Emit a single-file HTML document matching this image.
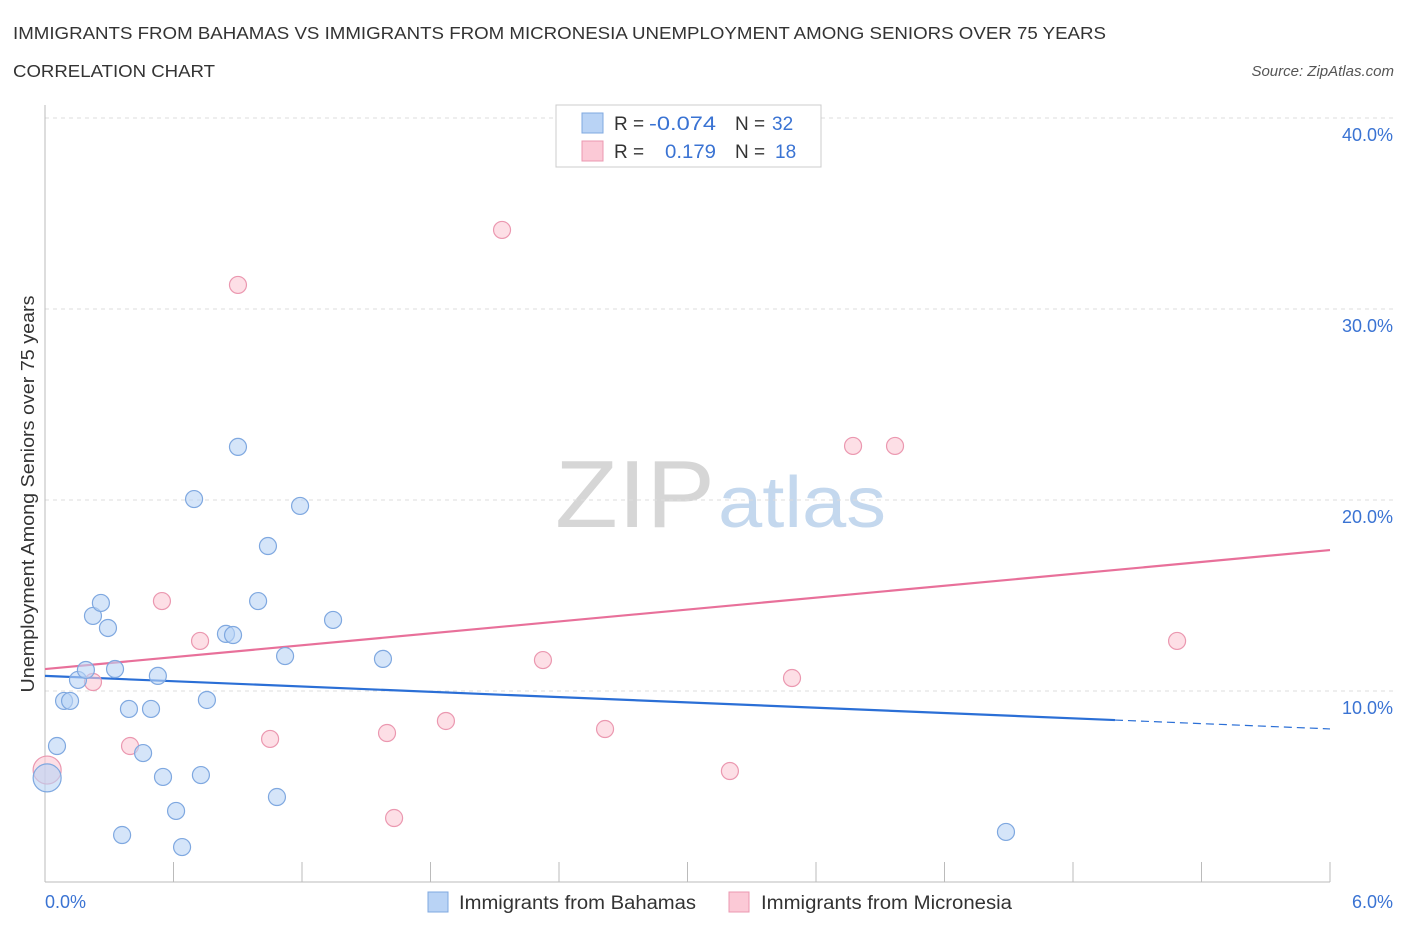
<!DOCTYPE html>
<html><head><meta charset="utf-8"><style>
body{margin:0;background:#fff;font-family:"Liberation Sans",sans-serif;}
svg text{font-family:"Liberation Sans",sans-serif;}
</style></head><body>
<svg id="chart" width="1406" height="930" xmlns="http://www.w3.org/2000/svg">
<text x="13" y="39" font-size="17.5" fill="#333" textLength="1093" lengthAdjust="spacingAndGlyphs">IMMIGRANTS FROM BAHAMAS VS IMMIGRANTS FROM MICRONESIA UNEMPLOYMENT AMONG SENIORS OVER 75 YEARS</text>
<text x="13" y="77" font-size="17.5" fill="#333" textLength="202" lengthAdjust="spacingAndGlyphs">CORRELATION CHART</text>
<text x="1394" y="76" font-size="15" fill="#555" font-style="italic" text-anchor="end">Source: ZipAtlas.com</text>
<g>
<text x="555" y="527" font-size="96" font-family="Liberation Serif,serif" fill="#d6d6d6" textLength="160" lengthAdjust="spacingAndGlyphs">ZIP</text>
<text x="718" y="527" font-size="72" fill="#c4d8ee" textLength="168" lengthAdjust="spacingAndGlyphs">atlas</text>
</g>
<text transform="translate(34,494) rotate(-90)" font-size="18" fill="#333" text-anchor="middle" textLength="397" lengthAdjust="spacingAndGlyphs">Unemployment Among Seniors over 75 years</text>
<g id="grid"></g><g id="axes"></g><g id="lines"></g><g id="points"></g>
<g>
<rect x="556" y="105" width="265" height="62" fill="#fff" stroke="#ccc"/>
<rect x="582" y="113" width="21" height="20" fill="#b9d3f5" stroke="#7fa8e0"/>
<rect x="582" y="141" width="21" height="20" fill="#fbc9d6" stroke="#eb98b0"/>
<text x="614" y="130" font-size="19" fill="#333">R = </text><text x="649" y="130" font-size="19" fill="#3a73d3" textLength="67" lengthAdjust="spacingAndGlyphs">-0.074</text>
<text x="735" y="130" font-size="19" fill="#333">N = </text><text x="772" y="130" font-size="19" fill="#3a73d3">32</text>
<text x="614" y="158" font-size="19" fill="#333">R = </text><text x="665" y="158" font-size="19" fill="#3a73d3" textLength="51" lengthAdjust="spacingAndGlyphs">0.179</text>
<text x="735" y="158" font-size="19" fill="#333">N = </text><text x="775" y="158" font-size="19" fill="#3a73d3">18</text>
</g>
<g>
<rect x="428" y="892" width="20" height="20" fill="#b9d3f5" stroke="#7fa8e0"/>
<text x="459" y="909" font-size="19" fill="#333" textLength="237" lengthAdjust="spacingAndGlyphs">Immigrants from Bahamas</text>
<rect x="729" y="892" width="20" height="20" fill="#fbc9d6" stroke="#eb98b0"/>
<text x="761" y="909" font-size="19" fill="#333" textLength="251" lengthAdjust="spacingAndGlyphs">Immigrants from Micronesia</text>
</g>
</svg>
<script>
const xTicks=[0,0.6,1.2,1.8,2.4,3.0,3.6,4.2,4.8,5.4,6.0];
const yTicks=[10,20,30,40];
const yTickLabels=["10.0%","20.0%","30.0%","40.0%"];
const xEndLabels=["0.0%","6.0%"];
const bahamasX=[0.056,0.089,0.117,0.154,0.191,0.224,0.261,0.294,0.327,0.360,0.392,0.458,0.495,0.527,0.551,0.612,0.640,0.696,0.728,0.756,0.845,0.878,0.901,0.995,1.041,1.083,1.121,1.191,1.345,1.578,4.487,0.01];
const bahamasY=[7.12,9.48,9.48,10.58,11.10,13.93,14.61,13.30,11.15,2.46,9.06,6.75,9.06,10.79,5.50,3.72,1.83,20.05,5.60,9.53,12.99,12.93,22.78,14.71,17.59,4.45,11.83,19.69,13.72,11.68,2.62,5.45];
const micronesiaX=[0.01,0.224,0.397,0.546,0.724,0.901,1.051,1.597,1.630,1.872,2.134,2.325,2.615,3.198,3.488,3.773,3.969,5.286];
const micronesiaY=[5.86,10.47,7.12,14.71,12.62,31.26,7.49,7.80,3.35,8.43,34.14,11.62,8.01,5.81,10.68,22.83,22.83,12.62];
const bahamasTrend=[10.79,-0.4625]; // intercept, slope
const micronesiaTrend=[11.15,1.038];
const X=v=>45+v/6*1285, Y=v=>882-v*19.1;
const NS="http://www.w3.org/2000/svg";
function mk(p,t,a){const e=document.createElementNS(NS,t);for(const k in a)e.setAttribute(k,a[k]);document.getElementById(p).appendChild(e);return e;}
yTicks.forEach((t,i)=>{
 const l=mk('grid','line',{x1:45,x2:1395,y1:Y(t),y2:Y(t),stroke:'#ddd','stroke-dasharray':'4,4'});
 
 
 const tx=mk('grid','text',{x:1393,y:Y(t)+23,'font-size':18,fill:'#3a73d3','text-anchor':'end'});tx.textContent=yTickLabels[i];
 
 
});
const ax=mk('axes','line',{x1:45,x2:1330,y1:882,y2:882,stroke:'#bbb'});


const ay=mk('axes','line',{x1:45,x2:45,y1:105,y2:882,stroke:'#bbb'});


xTicks.forEach(t=>{const l=mk('axes','line',{x1:X(t),x2:X(t),y1:862,y2:882,stroke:'#bbb'});
 
 });
const xl0=mk('axes','text',{x:45,y:908,'font-size':18,fill:'#3a73d3'});xl0.textContent=xEndLabels[0];


const xl1=mk('axes','text',{x:1393,y:908,'font-size':18,fill:'#3a73d3','text-anchor':'end'});xl1.textContent=xEndLabels[1];


function pts(xs,ys,fill,stroke,name){xs.forEach((x,i)=>{const big=i===xs.length-1&&x<0.05&&name==='bahamas'||(name==='micronesia'&&i===0);
 const c=mk('points','circle',{cx:X(x),cy:Y(ys[i]),r:big?14:8.5,fill:fill,stroke:stroke,'stroke-width':1.2,'fill-opacity':0.6});
 
 });}
pts(micronesiaX,micronesiaY,'#fbc9d6','#eb98b0','micronesia');
pts(bahamasX,bahamasY,'#b9d3f5','#7fa8e0','bahamas');
const bEnd=4.996;
const b1=mk('lines','line',{x1:X(0),y1:Y(bahamasTrend[0]),x2:X(bEnd),y2:Y(bahamasTrend[0]+bahamasTrend[1]*bEnd),stroke:'#2b6fd6','stroke-width':2.2});


const b2=mk('lines','line',{x1:X(bEnd),y1:Y(bahamasTrend[0]+bahamasTrend[1]*bEnd),x2:X(6),y2:Y(bahamasTrend[0]+bahamasTrend[1]*6),stroke:'#2b6fd6','stroke-width':1.2,'stroke-dasharray':'8,5'});


const m1=mk('lines','line',{x1:X(0),y1:Y(micronesiaTrend[0]),x2:X(6),y2:Y(micronesiaTrend[0]+micronesiaTrend[1]*6),stroke:'#e8709a','stroke-width':2.2});


</script>
</body></html>
